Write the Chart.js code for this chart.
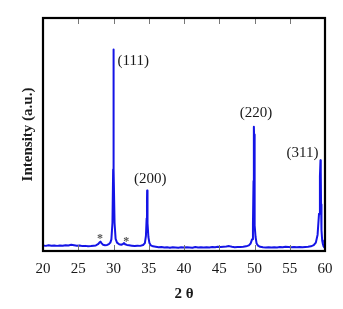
<!DOCTYPE html>
<html>
<head>
<meta charset="utf-8">
<script src="https://cdn.jsdelivr.net/npm/chart.js@4"></script>
<style>
html,body{margin:0;padding:0;background:#fff;}
#wrap{width:343px;height:309px;}
</style>
</head>
<body>
<div id="wrap"><canvas id="c" width="343" height="309"></canvas></div>
<script>
// 2θ positions (degrees)
const twoTheta = [
  20,20.4,20.8,21.2,21.6,22,22.4,22.8,23.2,23.6,24,24.4,24.8,25.2,25.6,26,26.4,26.8,27.2,27.5,
  27.8,28.0,28.15,28.3,28.5,28.8,29.1,29.35,29.55,29.7,29.85,29.95,29.98,30.0,30.02,30.05,30.15,30.3,30.5,30.8,
  31.1,31.35,31.5,31.65,31.9,32.2,32.6,33,33.4,33.8,34.2,34.45,34.6,34.7,34.75,34.77,34.8,34.85,34.95,35.1,
  35.3,35.6,36,36.4,36.8,37.2,37.6,38,38.4,38.8,39.2,39.6,40,40.4,40.8,41.2,41.6,42,42.4,42.8,
  43.2,43.6,44,44.4,44.8,45.2,45.6,46,46.4,46.8,47.2,47.6,48,48.4,48.8,49.2,49.45,49.65,49.78,
  49.86,49.9,49.92,49.94,49.98,50.06,50.15,50.3,50.5,50.8,51.2,51.6,52,52.4,52.8,53.2,53.6,54,54.4,54.8,
  55.2,55.6,56,56.4,56.8,57.2,57.6,58,58.4,58.7,58.95,59.15,59.28,59.36,59.4,59.44,59.5,59.6,59.7,
  59.8,59.9,60
];
// Intensity (a.u.)
const intensity = [
  2.4,2.2,2.5,2.3,2.4,2.2,2.4,2.3,2.5,2.4,2.7,2.5,2.3,2.4,2.1,2.2,2.0,2.1,2.3,2.4,
  2.9,3.6,4.0,3.4,2.7,2.5,2.6,3.0,3.6,5.0,12,35,70,86.5,70,35,12,5.2,3.6,2.9,
  2.7,3.0,3.4,2.9,2.6,2.5,2.3,2.1,2.3,2.2,2.6,3.4,6.5,14,22,26,20,12,6,3.4,
  2.4,2.0,1.8,1.6,1.7,1.5,1.6,1.4,1.6,1.5,1.4,1.6,1.5,1.6,1.5,1.4,1.7,1.5,1.6,1.5,
  1.6,1.5,1.7,1.6,1.8,1.7,1.8,1.9,2.1,1.8,1.6,1.7,1.7,1.8,2.0,2.4,3.2,5.0,11,
  30,50,53.3,50,30,11,6,3.2,2.3,1.8,1.6,1.5,1.6,1.5,1.6,1.5,1.7,1.6,1.8,
  1.7,1.6,1.7,1.6,1.7,1.6,1.7,1.8,2.0,2.5,3.6,7,16,32,39,34,20,9,4.5,
  3.0,2.0,1.6
];
// x axis tick labels
const xTicks = [20,25,30,35,40,45,50,55,60];
// peak annotations
const peakLabels = ["(111)","(200)","(220)","(311)"];
const peakLabelX = [32.8,35.2,50.2,56.8];
const peakLabelY = [81.5,30.9,59.2,42];
// impurity markers
const starX = [28.1,31.8];
const starY = [6.6,5.2];

const SERIF = '"Liberation Serif","DejaVu Serif",serif';

const framePlugin = {
  id: 'frame',
  afterDatasetsDraw(chart) {
    const {ctx, chartArea: a, scales} = chart;
    ctx.save();
    // inward ticks top & bottom
    ctx.strokeStyle = '#777';
    ctx.lineWidth = 1;
    xTicks.forEach(v => {
      if (v === 20 || v === 60) return;
      const px = Math.round(scales.x.getPixelForValue(v)) + 0.5;
      ctx.beginPath();
      ctx.moveTo(px, a.top); ctx.lineTo(px, a.top + 6);
      ctx.moveTo(px, a.bottom); ctx.lineTo(px, a.bottom - 6);
      ctx.stroke();
    });
    ctx.strokeStyle = '#000';
    ctx.lineWidth = 2.2;
    ctx.strokeRect(a.left, a.top, a.right - a.left, a.bottom - a.top);
    // labels
    ctx.fillStyle = '#1a1a1a';
    ctx.font = '15px ' + SERIF;
    ctx.textAlign = 'center';
    ctx.textBaseline = 'middle';
    peakLabels.forEach((t, i) => {
      ctx.fillText(t, scales.x.getPixelForValue(peakLabelX[i]), scales.y.getPixelForValue(peakLabelY[i]));
    });
    ctx.fillStyle = '#555';
    ctx.font = 'bold 12px ' + SERIF;
    starX.forEach((x, i) => {
      ctx.fillText('*', scales.x.getPixelForValue(x), scales.y.getPixelForValue(starY[i]) + 3);
    });
    ctx.restore();
  }
};

new Chart(document.getElementById('c'), {
  type: 'line',
  data: {
    datasets: [{
      data: twoTheta.map((x, i) => ({x: x, y: intensity[i]})),
      borderColor: '#1414e6',
      borderWidth: 2,
      borderJoinStyle: 'round',
      borderCapStyle: 'round',
      pointRadius: 0,
      tension: 0,
      fill: false
    }]
  },
  options: {
    responsive: false,
    animation: false,
    layout: {padding: {top: 18, right: 18, left: 0, bottom: 0}},
    plugins: {legend: {display: false}, tooltip: {enabled: false}},
    scales: {
      x: {
        type: 'linear',
        min: 20, max: 60,
        afterBuildTicks: s => { s.ticks = xTicks.map(v => ({value: v})); },
        afterFit: s => { s.height = 58; },
        grid: {display: false, drawTicks: false},
        border: {display: false},
        ticks: {padding: 9, color: '#1a1a1a', font: {family: SERIF, size: 15}, maxRotation: 0},
        title: {display: true, text: '2 θ', color: '#1a1a1a', font: {family: SERIF, size: 15, weight: 'bold'}, padding: {top: 0, bottom: 6}}
      },
      y: {
        min: 0, max: 100,
        afterFit: s => { s.width = 43; },
        grid: {display: false, drawTicks: false},
        border: {display: false},
        ticks: {display: false},
        title: {display: true, text: 'Intensity (a.u.)', color: '#1a1a1a', font: {family: SERIF, size: 15, weight: 'bold'}, padding: {top: 19, bottom: 0}}
      }
    }
  },
  plugins: [framePlugin]
});
</script>
</body>
</html>
